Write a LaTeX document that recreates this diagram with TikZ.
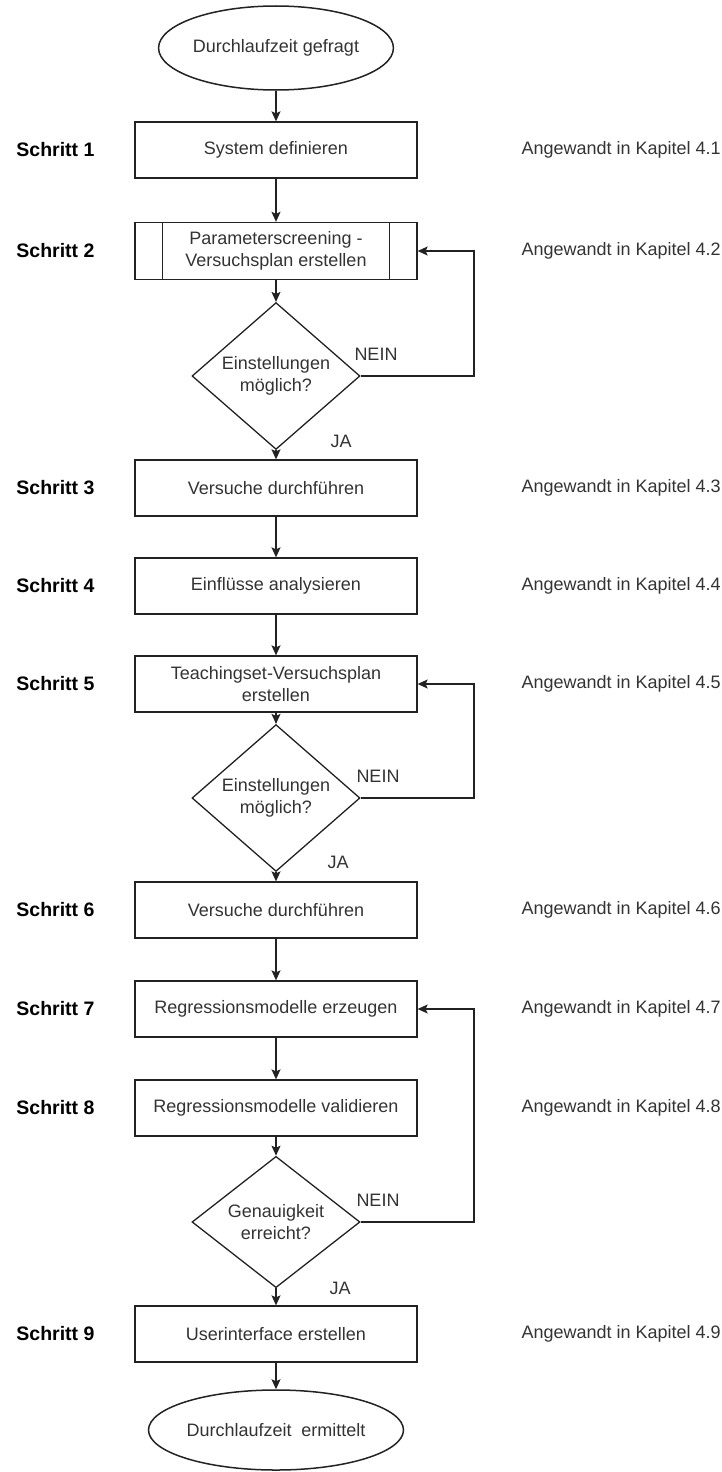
\documentclass[tikz,border=0pt]{standalone}
\usepackage{fontspec}
\setmainfont{Liberation Sans}
\usetikzlibrary{shapes.geometric,arrows.meta}
\definecolor{ink}{HTML}{333333}
\definecolor{edge}{HTML}{222222}
\begin{document}
\begin{tikzpicture}[x=1pt,y=-1pt,
  every node/.style={font=\fontsize{18}{22}\selectfont, text=ink},
  proc/.style={draw=edge, line width=1.3pt, minimum width=282pt, minimum height=56pt,
    inner sep=0pt, align=center},
  term/.style={draw=edge, line width=1.5pt, ellipse, inner sep=0pt, align=center},
  decide/.style={draw=edge, line width=1.3pt, diamond, minimum width=168pt,
    minimum height=113pt, inner sep=0pt, align=center},
  steplabel/.style={anchor=east, text=black, font=\fontsize{19.5}{22}\selectfont\bfseries},
  reflabel/.style={anchor=west},
  flow/.style={draw=edge, line width=1.3pt, -{Stealth[length=10pt,width=9pt,inset=2pt]}},
  branch/.style={font=\fontsize{18}{22}\selectfont}
]
\useasboundingbox (0,0) rectangle (722,1472);

% main column
\node[term, minimum width=228pt, minimum height=84pt] (start) at (276,48) {Durchlaufzeit gefragt};
\node[proc] (s1) at (276,150) {System definieren};
\node[proc, minimum height=57pt] (s2) at (276,251) {Parameterscreening -\\Versuchsplan erstellen};
\draw[edge, line width=1.3pt] ([xshift=28pt]s2.north west) -- ([xshift=28pt]s2.south west)
  ([xshift=-28pt]s2.north east) -- ([xshift=-28pt]s2.south east);
\node[decide] (d1) at (276,376) {Einstellungen\\möglich?};
\node[proc] (s3) at (276,488) {Versuche durchführen};
\node[proc] (s4) at (276,586) {Einflüsse analysieren};
\node[proc] (s5) at (276,684) {Teachingset-Versuchsplan\\erstellen};
\node[decide, minimum height=110pt] (d2) at (276,798) {Einstellungen\\möglich?};
\node[proc] (s6) at (276,910) {Versuche durchführen};
\node[proc] (s7) at (276,1009) {Regressionsmodelle erzeugen};
\node[proc] (s8) at (276,1108) {Regressionsmodelle validieren};
\node[decide, minimum height=112pt] (d3) at (276,1222) {Genauigkeit\\erreicht?};
\node[proc] (s9) at (276,1334) {Userinterface erstellen};
\node[term, minimum width=255pt, minimum height=80pt] (stop) at (276,1430) {Durchlaufzeit\hspace{0.55em}ermittelt};

% step labels
\foreach \n/\y in {1/150, 2/251, 3/488, 4/586, 5/684, 6/910, 7/1009, 8/1108, 9/1334}
  \node[steplabel] (lab\n) at (98,\y) {Schritt \n};

% chapter references
\foreach \n/\y in {1/150, 2/251, 3/488, 4/586, 5/684, 6/910, 7/1009, 8/1108, 9/1334}
  \node[reflabel] (ref\n) at (518,\y) {Angewandt in Kapitel 4.\n};

% forward flow
\draw[flow] (start) -- (s1);
\draw[flow] (s1) -- (s2);
\draw[flow] (s2) -- (d1);
\draw[flow] (d1) -- (s3);
\draw[flow] (s3) -- (s4);
\draw[flow] (s4) -- (s5);
\draw[flow] (s5) -- (d2);
\draw[flow] (d2) -- (s6);
\draw[flow] (s6) -- (s7);
\draw[flow] (s7) -- (s8);
\draw[flow] (s8) -- (d3);
\draw[flow] (d3) -- (s9);
\draw[flow] (s9) -- (stop);

% loops back on NEIN
\coordinate (r1) at (474,376);
\coordinate (r2) at (474,798);
\coordinate (r3) at (474,1222);
\draw[flow] (d1.east) -- (r1) |- (s2.east);
\draw[flow] (d2.east) -- (r2) |- (s5.east);
\draw[flow] (d3.east) -- (r3) |- (s7.east);

% branch labels
\node[branch] (n1) at (376,354) {NEIN};
\node[branch] (n2) at (378,776) {NEIN};
\node[branch] (n3) at (378,1200) {NEIN};
\node[branch] (j1) at (341,441) {JA};
\node[branch] (j2) at (338,862) {JA};
\node[branch] (j3) at (340,1288) {JA};
\end{tikzpicture}
\end{document}
